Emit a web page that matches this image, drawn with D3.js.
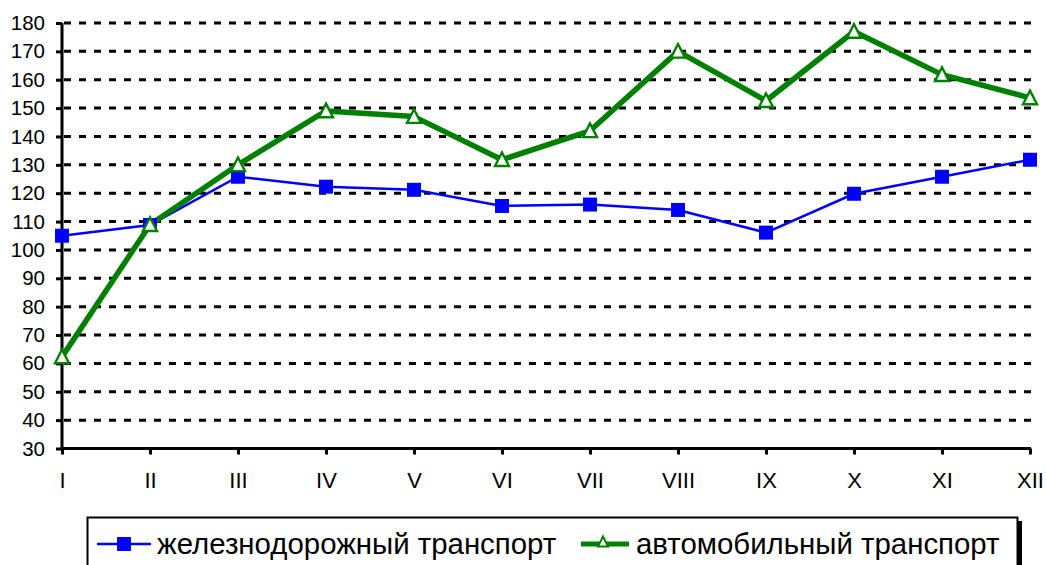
<!DOCTYPE html>
<html>
<head>
<meta charset="utf-8">
<script src="https://cdn.jsdelivr.net/npm/d3@7/dist/d3.min.js"></script>
<style>
  body { margin: 0; background: #fff; }
  text { font-family: "Liberation Sans", Arial, sans-serif; fill: #000; }
</style>
</head>
<body>
<div id="chart"></div>
<script>
var months = ["I", "II", "III", "IV", "V", "VI", "VII", "VIII", "IX", "X", "XI", "XII"];
var railValues = [105, 108.8, 125.8, 122.3, 121.2, 115.5, 116, 114.1, 106.1, 119.8, 125.8, 131.8];
var autoValues = [62.3, 108.9, 130, 149, 147, 131.8, 142, 170, 152.6, 177, 161.8, 153.6];
var yTicks = [30, 40, 50, 60, 70, 80, 90, 100, 110, 120, 130, 140, 150, 160, 170, 180];
var seriesNames = ["железнодорожный транспорт", "автомобильный транспорт"];

var w = 1046, h = 565;
var svg = d3.select("#chart").append("svg").attr("width", w).attr("height", h);

/** scales */
var x = d3.scalePoint().domain(months).range([62, 1030]);
var y = d3.scaleLinear().domain([30, 180]).range([448.5, 23]);

/** dashed grid */
svg.append("g")
  .selectAll("line")
  .data(yTicks.filter(function (d) { return d > 30; }))
  .enter().append("line")
  .attr("x1", 64).attr("x2", 1031)
  .attr("y1", function (d) { return y(d); })
  .attr("y2", function (d) { return y(d); })
  .attr("stroke", "#000")
  .attr("stroke-width", 3)
  .attr("stroke-dasharray", "7,8");

/** axes */
var yAxis = svg.append("g")
  .attr("transform", "translate(62,0)")
  .call(d3.axisLeft(y).tickValues(yTicks).tickSize(6).tickPadding(11));
var xAxis = svg.append("g")
  .attr("transform", "translate(0," + y(30) + ")")
  .call(d3.axisBottom(x).tickSize(6).tickPadding(18));
[yAxis, xAxis].forEach(function (g) {
  g.select(".domain").attr("stroke", "#000").attr("stroke-width", 3);
  g.selectAll(".tick line").attr("stroke", "#000").attr("stroke-width", 3);
  g.selectAll(".tick text").attr("fill", "#000")
    .style("font-family", "'Liberation Sans', Arial, sans-serif");
});
yAxis.selectAll(".tick text").style("font-size", "20.5px");
xAxis.selectAll(".tick text").style("font-size", "22px");
yAxis.select(".domain").attr("d", "M0," + y(30) + "V" + y(180));
xAxis.select(".domain").attr("d", "M62,0H1031");

/** lines */
var line = d3.line()
  .x(function (d, i) { return x(months[i]); })
  .y(function (d) { return y(d); });

svg.append("path").datum(railValues)
  .attr("d", line).attr("fill", "none")
  .attr("stroke", "#0000ff").attr("stroke-width", 2.5);

svg.append("path").datum(autoValues)
  .attr("d", line).attr("fill", "none")
  .attr("stroke", "#008000").attr("stroke-width", 5.5)
  .attr("stroke-linejoin", "round");

var sq = 14;
svg.append("g").selectAll("rect")
  .data(railValues).enter().append("rect")
  .attr("x", function (d, i) { return x(months[i]) - sq / 2; })
  .attr("y", function (d) { return y(d) - sq / 2; })
  .attr("width", sq).attr("height", sq)
  .attr("fill", "#0000ff");

function triangle(cx, cy, s) {
  var hh = s * 0.9;
  return "M" + cx + "," + (cy - hh / 2 - 1) + "L" + (cx + s / 2) + "," + (cy + hh / 2) + "L" + (cx - s / 2) + "," + (cy + hh / 2) + "Z";
}
svg.append("g").selectAll("path")
  .data(autoValues).enter().append("path")
  .attr("d", function (d, i) { return triangle(x(months[i]), y(d), 14); })
  .attr("fill", "#fff")
  .attr("stroke", "#008000").attr("stroke-width", 2.4);

/** legend */
var lg = svg.append("g");
lg.append("rect").attr("x", 92).attr("y", 521).attr("width", 930).attr("height", 60).attr("fill", "#000");
lg.append("rect").attr("x", 87.5).attr("y", 517.5).attr("width", 930).attr("height", 60)
  .attr("fill", "#fff").attr("stroke", "#000").attr("stroke-width", 2);

var ly = 544;
lg.append("line").attr("x1", 97).attr("x2", 151).attr("y1", ly).attr("y2", ly)
  .attr("stroke", "#0000ff").attr("stroke-width", 2.5);
lg.append("rect").attr("x", 124 - sq / 2).attr("y", ly - sq / 2).attr("width", sq).attr("height", sq).attr("fill", "#0000ff");
lg.append("text").attr("x", 157).attr("y", ly + 10).style("font-size", "29.4px").text(seriesNames[0]);

lg.append("line").attr("x1", 581).attr("x2", 629).attr("y1", ly).attr("y2", ly)
  .attr("stroke", "#008000").attr("stroke-width", 5);
lg.append("path").attr("d", triangle(603, ly - 2, 10)).attr("fill", "#fff")
  .attr("stroke", "#008000").attr("stroke-width", 2);
lg.append("text").attr("x", 636).attr("y", ly + 10).style("font-size", "29.4px").text(seriesNames[1]);
</script>
</body>
</html>
